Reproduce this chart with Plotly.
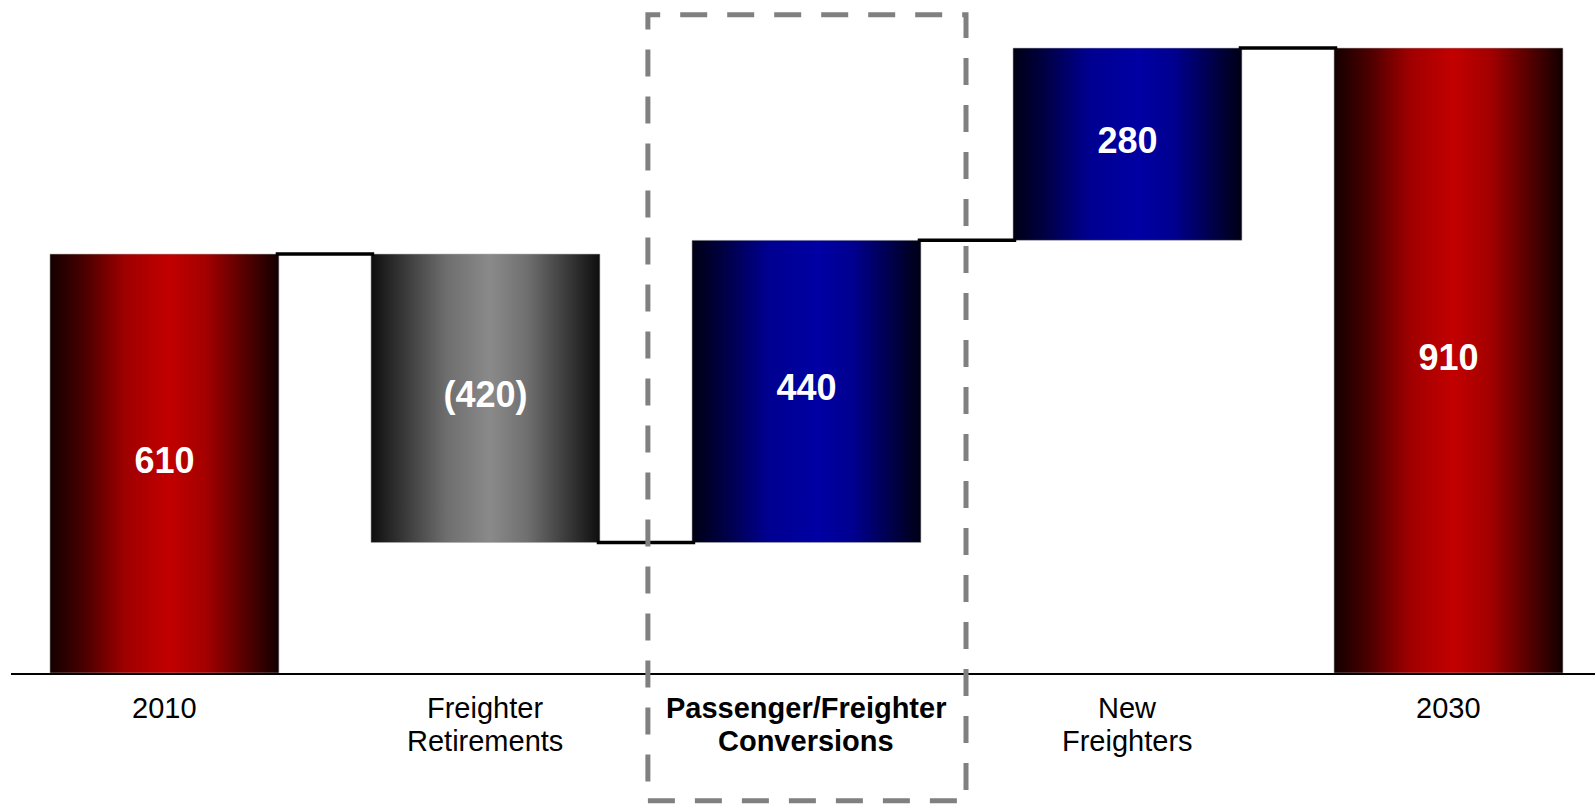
import plotly.graph_objects as go

# ---- data ----
categories = ["2010", "Freighter<br>Retirements", "Passenger/Freighter<br>Conversions",
              "New<br>Freighters", "2030"]
values = [610, -420, 440, 280, 910]
measures = ["total", "relative", "relative", "relative", "total"]
value_labels = ["610", "(420)", "440", "280", "910"]
highlight_index = 2

# ---- styles ----
RED = [[0, '#140000'], [0.15, '#4a0000'], [0.33, '#a00000'], [0.52, '#c20000'],
       [0.68, '#a40000'], [0.85, '#560000'], [1, '#120000']]
GRAY = [[0, '#0e0e0e'], [0.15, '#3a3a3a'], [0.33, '#6e6e6e'], [0.52, '#8a8a8a'],
        [0.68, '#707070'], [0.85, '#3c3c3c'], [1, '#0e0e0e']]
BLUE = [[0, '#000014'], [0.15, '#000048'], [0.33, '#000090'], [0.55, '#0000a4'],
        [0.7, '#000090'], [0.87, '#00004a'], [1, '#000014']]

half_w = 0.3566
FONT = "Liberation Sans, Arial, sans-serif"

# running totals
bases, tops = [], []
level = 0
for v, m in zip(values, measures):
    if m == "total":
        b, t = 0, v
        level = v
    else:
        b, t = level, level + v
        level = level + v
    bases.append(min(b, t))
    tops.append(max(b, t))

fig = go.Figure()

for i, (v, m) in enumerate(zip(values, measures)):
    if m == "total":
        cs = RED
    elif v < 0:
        cs = GRAY
    else:
        cs = BLUE
    x0, x1 = i - half_w, i + half_w
    fig.add_trace(go.Scatter(
        x=[x0, x1, x1, x0, x0], y=[bases[i], bases[i], tops[i], tops[i], bases[i]],
        mode="lines", fill="toself",
        fillgradient=dict(type="horizontal", colorscale=cs),
        line=dict(width=0.8, color="rgba(170,170,170,0.7)"),
        hoverinfo="skip", showlegend=False))

# connectors
level = 0
for i, (v, m) in enumerate(zip(values, measures)):
    level = v if m == "total" else level + v
    if i < len(values) - 1:
        fig.add_trace(go.Scatter(
            x=[i + half_w - 0.01, i + 1 - half_w + 0.01], y=[level, level],
            mode="lines", line=dict(color="black", width=3.5),
            hoverinfo="skip", showlegend=False))

# value labels
fig.add_trace(go.Scatter(
    x=list(range(len(values))), y=[(b + t) / 2 for b, t in zip(bases, tops)],
    mode="text", text=value_labels,
    textfont=dict(color="white", size=36, family=FONT, weight="bold"),
    hoverinfo="skip", showlegend=False))

# axis geometry
xr = [-0.478, 4.4564]
yr = [0, 980]
ml = 11
W, H = 1595, 805
mb = 132

def xpaper(xv):
    return (xv - xr[0]) / (xr[1] - xr[0])

# category labels (one annotation per line for tight line spacing)
for i, cat in enumerate(categories):
    for j, line in enumerate(cat.split("<br>")):
        txt = f"<b>{line}</b>" if i == highlight_index else line
        fig.add_annotation(x=i, y=0, xref="x", yref="paper", text=txt,
                           showarrow=False, yanchor="middle", xanchor="center",
                           yshift=-35 - 32.5 * j,
                           font=dict(size=29, family=FONT, color="black"))

# highlight dashed box around the conversions category
hx0 = xpaper(highlight_index - 0.494)
hx1 = xpaper(highlight_index + 0.497)
fig.add_shape(type="rect", xref="paper", yref="paper",
              x0=hx0, x1=hx1, y0=-0.19, y1=0.978,
              line=dict(color="#808080", width=5, dash="27px,20px"))

fig.update_layout(
    width=W, height=H,
    margin=dict(l=ml, r=0, t=0, b=mb),
    plot_bgcolor="white", paper_bgcolor="white",
    font=dict(family=FONT, color="black"),
    xaxis=dict(range=xr, tickvals=list(range(len(categories))),
               showticklabels=False, showgrid=False, zeroline=False,
               showline=True, linecolor="black", linewidth=2, ticks=""),
    yaxis=dict(range=yr, visible=False, showgrid=False, zeroline=False),
    hovermode=False,
)

fig.write_html("out.html")
